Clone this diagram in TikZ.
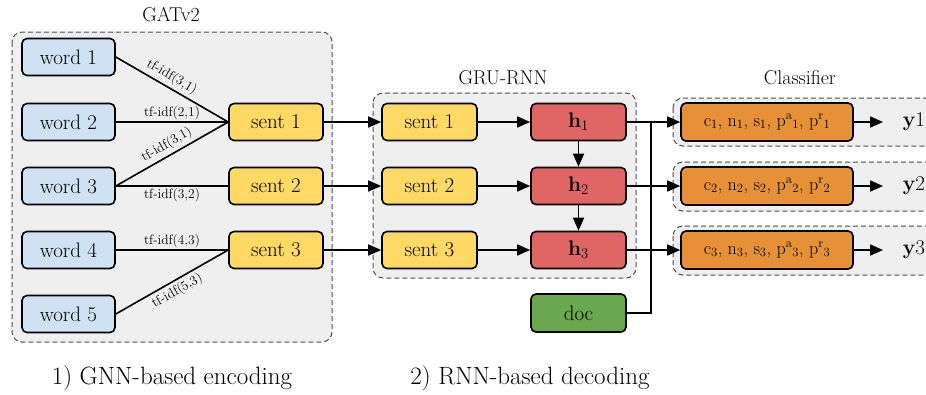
\documentclass[tikz,border=0pt]{standalone}
\usepackage{fontspec}
\usetikzlibrary{arrows.meta}
\definecolor{wordc}{HTML}{CFE2F3}
\definecolor{sentc}{HTML}{FFD966}
\definecolor{hc}{HTML}{E06666}
\definecolor{docc}{HTML}{6AA84F}
\definecolor{clsc}{HTML}{E69138}
\definecolor{grpc}{HTML}{EFEFEF}
\begin{document}
\begin{tikzpicture}[x=1pt,y=-1pt,
  box/.style={draw=black, line width=1.6pt, rounded corners=5pt, minimum width=93pt, minimum height=37pt, inner sep=0pt, font=\fontsize{21}{24}\selectfont},
  wordbox/.style={box, fill=wordc},
  sentbox/.style={box, fill=sentc, minimum width=94pt},
  hbox/.style={box, fill=hc, minimum width=95pt},
  docbox/.style={box, fill=docc, minimum width=95pt, minimum height=38pt},
  clsbox/.style={box, fill=clsc, minimum width=172pt, minimum height=38pt, font=\fontsize{18}{21}\selectfont},
  group/.style={draw=black!70, line width=1pt, dash pattern=on 5pt off 3pt, fill=grpc, rounded corners=10pt},
  ln/.style={line width=1.6pt},
  arr/.style={line width=1.6pt, -{Triangle[length=13pt,width=11pt]}},
  elab/.style={font=\fontsize{13.5}{15}\selectfont, inner sep=3pt},
  ttl/.style={font=\fontsize{20}{23}\selectfont},
  captext/.style={font=\fontsize{25}{28}\selectfont}
]
\useasboundingbox (0,0) rectangle (926,394);
% groups
\draw[group] (12,32) rectangle (332,342);
\draw[group] (373,93) rectangle (636,278);
\begin{scope}
  \clip (0,0) rectangle (926,394);
  \draw[group] (673,98) rectangle (960,146);
  \draw[group] (673,162) rectangle (960,211);
  \draw[group] (673,226) rectangle (960,275);
\end{scope}
% titles
\node[ttl] (tgat) at (171,15) {GATv2};
\node[ttl] (tgru) at (503,78) {GRU-RNN};
\node[ttl] (tcls) at (800,78) {Classifier};
% word nodes
\node[wordbox] (w1) at (68.5,57) {word 1};
\node[wordbox] (w2) at (68.5,122) {word 2};
\node[wordbox] (w3) at (68.5,186) {word 3};
\node[wordbox] (w4) at (68.5,250) {word 4};
\node[wordbox] (w5) at (68.5,314) {word 5};
% sent nodes (GNN)
\node[sentbox] (s1) at (276,122) {sent 1};
\node[sentbox] (s2) at (276,186) {sent 2};
\node[sentbox] (s3) at (276,250) {sent 3};
% GNN edges
\draw[ln] (w1.east) -- node[elab, sloped, above, pos=0.45] {tf-idf(3,1)} (s1.west);
\draw[ln] (w2.east) -- node[elab, above, inner sep=1.5pt] {tf-idf(2,1)} (s1.west);
\draw[ln] (w3.east) -- node[elab, sloped, above] {tf-idf(3,1)} (s1.west);
\draw[ln] (w3.east) -- node[elab, below, inner sep=1.5pt] {tf-idf(3,2)} (s2.west);
\draw[ln] (w4.east) -- node[elab, above, inner sep=1.5pt] {tf-idf(4,3)} (s3.west);
\draw[ln] (w5.east) -- node[elab, sloped, below] {tf-idf(5,3)} (s3.west);
% GRU nodes
\node[sentbox, minimum width=95pt] (g1) at (429.5,122) {sent 1};
\node[sentbox, minimum width=95pt] (g2) at (429.5,186) {sent 2};
\node[sentbox, minimum width=95pt] (g3) at (429.5,250) {sent 3};
\node[hbox] (h1) at (578.5,122) {\textbf{h}\textsubscript{1}};
\node[hbox] (h2) at (578.5,186) {\textbf{h}\textsubscript{2}};
\node[hbox] (h3) at (578.5,250) {\textbf{h}\textsubscript{3}};
\node[docbox] (doc) at (578.5,313) {doc};
% classifier nodes
\node[clsbox] (c1) at (767,122) {c\textsubscript{1}, n\textsubscript{1}, s\textsubscript{1}, p\textsuperscript{a}\textsubscript{1}, p\textsuperscript{r}\textsubscript{1}};
\node[clsbox] (c2) at (767,186) {c\textsubscript{2}, n\textsubscript{2}, s\textsubscript{2}, p\textsuperscript{a}\textsubscript{2}, p\textsuperscript{r}\textsubscript{2}};
\node[clsbox] (c3) at (767,250) {c\textsubscript{3}, n\textsubscript{3}, s\textsubscript{3}, p\textsuperscript{a}\textsubscript{3}, p\textsuperscript{r}\textsubscript{3}};
\node[box, draw=none, fill=none, minimum width=0pt, inner xsep=0pt, anchor=west] (y1) at (902,122) {\textbf{y}1};
\node[box, draw=none, fill=none, minimum width=0pt, inner xsep=0pt, anchor=west] (y2) at (902,186) {\textbf{y}2};
\node[box, draw=none, fill=none, minimum width=0pt, inner xsep=0pt, anchor=west] (y3) at (902,250) {\textbf{y}3};
% connectors
\draw[arr] (s1.east) -- (g1.west);
\draw[arr] (s2.east) -- (g2.west);
\draw[arr] (s3.east) -- (g3.west);
\draw[arr] (g1.east) -- (h1.west);
\draw[arr] (g2.east) -- (h2.west);
\draw[arr] (g3.east) -- (h3.west);
\draw[arr] (h1.south) -- (h2.north);
\draw[arr] (h2.south) -- (h3.north);
\draw[arr] (h1.east) -- (c1.west);
\draw[arr] (h2.east) -- (c2.west);
\draw[arr] (h3.east) -- (c3.west);
\coordinate (j1) at (651,122);
\draw[ln] (doc.east) -| (j1);
\draw[arr, shorten >=19pt] (c1.east) -- (y1.west);
\draw[arr, shorten >=19pt] (c2.east) -- (y2.west);
\draw[arr, shorten >=19pt] (c3.east) -- (y3.west);
% captions
\node[captext] (cap1) at (172,378) {1) GNN-based encoding};
\node[captext] (cap2) at (530,378) {2) RNN-based decoding};
\end{tikzpicture}
\end{document}
